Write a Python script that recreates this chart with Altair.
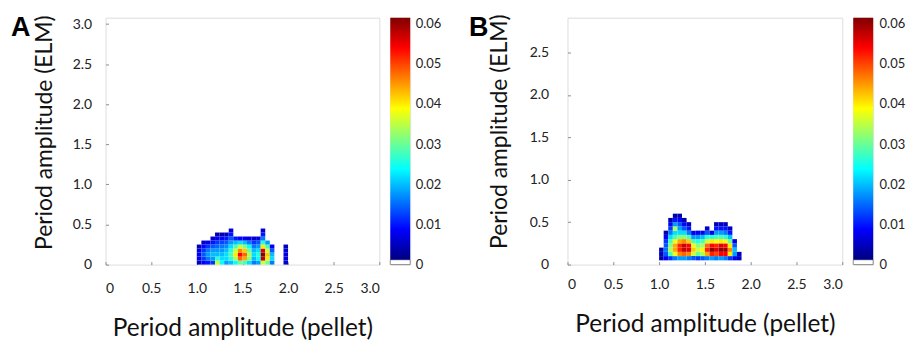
import altair as alt
import pandas as pd

FONT = "Lato"
FRAME = "#8c8c8c"

# ---------------- data (density values in units of 1e-3) ----------------
CELL = 0.05
Y_EDGES = [0.00, 0.05, 0.10, 0.15, 0.20, 0.25, 0.30, 0.35, 0.40, 0.45, 0.50, 0.55]

A_X = [1.00, 1.05, 1.10, 1.15, 1.20, 1.25, 1.30, 1.35, 1.40, 1.45,
       1.50, 1.55, 1.60, 1.65, 1.70, 1.75, 1.80, 1.85, 1.90, 1.95]
# each list: one column, values from the bottom row (y=0) upward
A_COLS = [
    [5, 8, 8, 7, 5],
    [8, 12, 14, 12, 9, 6],
    [10, 16, 18, 16, 12, 7],
    [12, 18, 20, 18, 14, 10, 6],
    [36, 26, 20, 18, 15, 12, 8, 4],
    [24, 22, 20, 18, 16, 13, 9, 4],
    [18, 22, 22, 20, 17, 14, 10, 5],
    [20, 26, 28, 26, 22, 18, 14, 10, 7],
    [24, 34, 40, 36, 28, 20, 10],
    [30, 48, 54, 46, 36, 22, 9],
    [28, 44, 48, 42, 32, 20, 8],
    [22, 32, 34, 30, 24, 16, 7],
    [16, 20, 22, 20, 16, 12, 6],
    [18, 24, 26, 22, 18, 14, 7],
    [36, 58, 61, 56, 40, 26, 16, 10, 6],
    [30, 40, 42, 36, 28, 18],
    [16, 22, 20, 14, 8],
    [],
    [],
    [6, 7, 7, 6, 5],
]

B_X = [1.00, 1.05, 1.10, 1.15, 1.20, 1.25, 1.30, 1.35, 1.40, 1.45,
       1.50, 1.55, 1.60, 1.65, 1.70, 1.75, 1.80, 1.85]
B_COLS = [
    [0, 4, 5, 4],
    [0, 8, 14, 16, 14, 12, 8, 4],
    [0, 12, 28, 34, 32, 28, 22, 16, 12, 8, 4],
    [0, 16, 38, 44, 44, 38, 28, 22, 34, 18, 10, 4],
    [0, 18, 46, 52, 52, 44, 32, 22, 18, 14, 9, 4],
    [0, 18, 48, 57, 57, 46, 32, 22, 14, 9, 4],
    [0, 16, 46, 56, 54, 42, 28, 16, 10, 5],
    [0, 14, 36, 42, 38, 28, 18, 8],
    [0, 12, 30, 36, 32, 26, 18, 8],
    [0, 14, 34, 38, 34, 28, 20, 8],
    [0, 16, 44, 52, 48, 36, 26, 14, 6],
    [0, 18, 52, 60, 54, 40, 26, 8],
    [0, 16, 50, 56, 52, 38, 28, 18, 10, 5],
    [0, 18, 54, 60, 56, 40, 28, 18, 10, 5],
    [0, 16, 54, 60, 54, 38, 26, 16, 10, 5],
    [0, 12, 40, 46, 40, 30, 20, 10, 5],
    [0, 8, 18, 20, 14, 7],
    [0, 5, 5],
]

X_TICKS = [0, 0.5, 1.0, 1.5, 2.0, 2.5, 3.0]
A_Y_TICKS = [0, 0.5, 1.0, 1.5, 2.0, 2.5, 3.0]
B_Y_TICKS = [0, 0.5, 1.0, 1.5, 2.0, 2.5]
CB_TICKS = [0, 0.01, 0.02, 0.03, 0.04, 0.05, 0.06]

# ---------------- colour map (jet) ----------------
CMIN, CMAX = 0.0012, 0.0615
JET = ["#00007f", "#0000ff", "#00ffff", "#ffff00", "#ff0000", "#7f0000"]
JET_POS = [0.0, 0.125, 0.375, 0.625, 0.875, 1.0]
jet_domain = [CMIN + p * (CMAX - CMIN) for p in JET_POS]
color_scale = alt.Scale(domain=jet_domain, range=JET, interpolate="rgb", clamp=True)


def cells(xs, cols):
    rec = []
    for x, col in zip(xs, cols):
        for i, v in enumerate(col):
            if v > 0:
                rec.append({"x": x, "x2": x + CELL, "y": Y_EDGES[i],
                            "y2": Y_EDGES[i] + CELL, "v": v / 1000.0})
    return pd.DataFrame(rec)


num_expr = "datum.value == 0 ? '0' : format(datum.value, '.1f')"
cb_expr = "datum.value == 0 ? '0' : format(datum.value, '.2f')"


def heat(df, width, ymax, yticks, letter, letter_dx, ylab_pad, ytitle_pad, ytitle_y,
         xlab_pad, xtitle_pad):
    rects = alt.Chart(df).mark_rect().encode(
        x=alt.X("x:Q", scale=alt.Scale(domain=[0, 3.0], nice=False, zero=False),
                axis=alt.Axis(values=X_TICKS, labelExpr=num_expr,
                              title="Period amplitude (pellet)",
                              domain=False, grid=False,
                              tickSize={"expr": "-3"}, tickColor=FRAME,
                              labelPadding=xlab_pad, titlePadding=xtitle_pad,
                              labelFont=FONT, labelFontSize=14, labelColor="#222",
                              titleFont=FONT, titleFontSize=24.5, titleFontWeight="normal",
                              titleColor="#111")),
        x2="x2:Q",
        y=alt.Y("y:Q", scale=alt.Scale(domain=[0, ymax], nice=False, zero=False),
                axis=alt.Axis(values=yticks, labelExpr=num_expr,
                              title="Period amplitude (ELM)",
                              domain=False, grid=False,
                              tickSize={"expr": "-3"}, tickColor=FRAME,
                              labelPadding=ylab_pad, titlePadding=ytitle_pad,
                              titleY=ytitle_y,
                              labelFont=FONT, labelFontSize=14, labelColor="#222",
                              titleFont=FONT, titleFontSize=23, titleFontWeight="normal",
                              titleColor="#111")),
        y2="y2:Q",
        color=alt.Color("v:Q", scale=color_scale, legend=None),
    )
    tag = alt.Chart(pd.DataFrame({"t": [letter]})).mark_text(
        font="Liberation Sans", fontSize=27, fontWeight="bold", color="black",
        align="left", baseline="alphabetic",
    ).encode(text="t:N", x=alt.value(letter_dx), y=alt.value(18))
    return alt.layer(rects, tag).properties(width=width, height=248)


def cbar(lab_pad):
    yscale = alt.Scale(domain=[0, CMAX], nice=False, zero=False)
    yaxis = alt.Axis(values=CB_TICKS, labelExpr=cb_expr, orient="right", title=None,
                     domain=False, ticks=False, grid=False, labelPadding=lab_pad,
                     labelFont=FONT, labelFontSize=13, labelColor="#222")
    zero = alt.Chart(pd.DataFrame({"lo": [0.0], "hi": [CMIN]})).mark_rect(
        fill="white", stroke=FRAME, strokeWidth=1
    ).encode(y=alt.Y("lo:Q", scale=yscale, axis=yaxis), y2="hi:Q")
    grad = alt.Chart(pd.DataFrame({"lo": [CMIN], "hi": [CMAX]})).mark_rect(
        fill=alt.LinearGradient(
            gradient="linear",
            stops=[alt.GradientStop(color=c, offset=p) for c, p in zip(JET, JET_POS)],
            x1=0, x2=0, y1=1, y2=0,
        )
    ).encode(y=alt.Y("lo:Q", scale=yscale, axis=yaxis), y2="hi:Q")
    return alt.layer(zero, grad).properties(width=20, height=248)


spacer = alt.Chart(pd.DataFrame({"s": [0]})).mark_point(opacity=0).encode(
    x=alt.value(0), y=alt.value(0)
).properties(width=136, height=248, view=alt.ViewBackground(strokeOpacity=0))

heatA = heat(cells(A_X, A_COLS), 275, 3.08, A_Y_TICKS, "A", -95, 17, 16, 115, 20, 21)
heatB = heat(cells(B_X, B_COLS), 276, 2.91, B_Y_TICKS, "B", -99, 22, 18, 114, 16, 21)

chart = alt.hconcat(
    heatA, cbar(5), spacer, heatB, cbar(6), spacing=11, bounds="flush"
).properties(
    padding={"left": 10, "top": 12, "right": 0, "bottom": 0}
).configure_view(
    stroke=FRAME, strokeWidth=1
).configure(
    font=FONT, background="white"
)

chart.save("out.html", embed_options={"renderer": "svg", "actions": False})
